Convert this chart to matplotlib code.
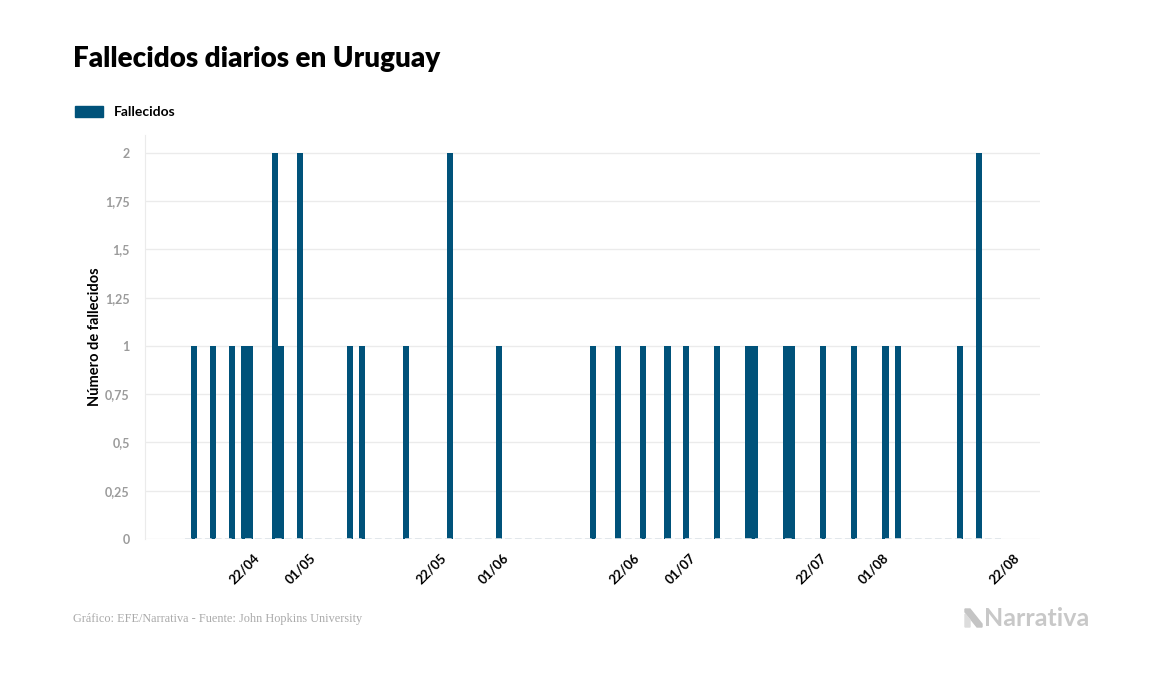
import matplotlib
matplotlib.use('Agg')
import matplotlib.pyplot as plt
import matplotlib.dates as mdates
import matplotlib.ticker as ticker
from matplotlib.transforms import ScaledTranslation
from matplotlib.patches import Polygon
import pandas as pd

# days with reported deaths and their counts
death_days = ['2020-04-14', '2020-04-17', '2020-04-20', '2020-04-22', '2020-04-23',
              '2020-04-27', '2020-04-28', '2020-05-01', '2020-05-09', '2020-05-11',
              '2020-05-18', '2020-05-25', '2020-06-02', '2020-06-17', '2020-06-21',
              '2020-06-25', '2020-06-29', '2020-07-02', '2020-07-07', '2020-07-12',
              '2020-07-13', '2020-07-18', '2020-07-19', '2020-07-24', '2020-07-29',
              '2020-08-03', '2020-08-05', '2020-08-15', '2020-08-18']
death_counts = [1, 1, 1, 1, 1,
                2, 1, 2, 1, 1,
                1, 2, 1, 1, 1,
                1, 1, 1, 1, 1,
                1, 1, 1, 1, 1,
                1, 1, 1, 2]
first_day = '2020-04-13'
last_day = '2020-08-21'
tick_days = ['2020-04-22', '2020-05-01', '2020-05-22', '2020-06-01', '2020-06-22',
             '2020-07-01', '2020-07-22', '2020-08-01', '2020-08-22']
y_ticks = [0, 0.25, 0.5, 0.75, 1, 1.25, 1.5, 1.75, 2]

series = pd.Series(death_counts, index=pd.to_datetime(death_days))
series = series.reindex(pd.date_range(first_day, last_day, freq='D'), fill_value=0)

BAR = '#00527a'
GRID = '#ebebeb'
FONT = 'Lato'

fig = plt.figure(figsize=(11.57, 6.74), dpi=100)
ax = fig.add_axes([145 / 1157, 1 - 539 / 674, 895 / 1157, 404 / 674])

x = mdates.date2num(series.index.to_pydatetime())
ax.bar(x, series.values, width=0.98, color=BAR, zorder=3)
ax.hlines(0, x[0] - 0.5, x[-1] + 0.5, color='#dde3e8', lw=1.2, ls=(0, (4, 2)), zorder=4)

ax.set_xlim(x[0] - 6.9, x[0] + 136.8)
ax.set_ylim(0, 2.093)

ax.set_yticks(y_ticks)
ax.yaxis.set_major_formatter(ticker.FuncFormatter(
    lambda v, pos: ('%g' % v).replace('.', ',')))
ax.grid(axis='y', color=GRID, lw=1, zorder=0)
ax.tick_params(axis='y', length=0, pad=11, labelsize=9, labelcolor='#9b9b9b')
for lab in ax.get_yticklabels():
    lab.set_fontweight('bold')
    lab.set_fontfamily(FONT)

tick_nums = mdates.date2num(pd.to_datetime(tick_days).to_pydatetime())
ax.set_xticks(tick_nums)
ax.set_xticklabels(pd.to_datetime(tick_days).strftime('%d/%m'))
ax.tick_params(axis='x', length=0, pad=9)
shift = ScaledTranslation(9 / 100, 0, fig.dpi_scale_trans)
for lab in ax.get_xticklabels():
    lab.set_rotation(45)
    lab.set_ha('right')
    lab.set_va('top')
    lab.set_rotation_mode('anchor')
    lab.set_fontsize(9.5)
    lab.set_fontweight('bold')
    lab.set_fontfamily(FONT)
    lab.set_transform(lab.get_transform() + shift)

for side in ['top', 'right', 'bottom']:
    ax.spines[side].set_visible(False)
ax.spines['left'].set_color(GRID)

ax.set_ylabel('Número de fallecidos', fontsize=10.5, fontweight='bold',
              family=FONT, labelpad=2)

fig.text(73 / 1157, 1 - 59 / 674, 'Fallecidos diarios en Uruguay', fontsize=20,
         fontweight='heavy', family=FONT, va='center', ha='left')

fig.patches.append(plt.Rectangle((75 / 1157, 1 - 117 / 674), 28 / 1157, 11 / 674,
                                 transform=fig.transFigure, color=BAR))
fig.text(114 / 1157, 1 - 112 / 674, 'Fallecidos', fontsize=10, fontweight='bold',
         family=FONT, va='center', ha='left')

fig.text(73 / 1157, 1 - 619 / 674,
         'Gráfico: EFE/Narrativa - Fuente: John Hopkins University',
         fontsize=8.8, family='Liberation Serif', color='#aaaaaa', va='center')

# logo
icon_dark = [(965, 609), (970, 609), (982, 624), (982, 627), (977, 627), (965, 612)]
icon_light = [(965, 614), (970, 620), (970, 627), (965, 627)]
for pts, col in [(icon_dark, '#c4c4c4'), (icon_light, '#dcdcdc')]:
    fig.patches.append(Polygon([(px / 1157, 1 - py / 674) for px, py in pts],
                               closed=True, transform=fig.transFigure, color=col))
fig.text(984 / 1157, 1 - 618 / 674, 'Narrativa', fontsize=18, fontweight='bold',
         family=FONT, color='#c8c8c8', va='center', ha='left')

plt.savefig('out.png', dpi=100)
